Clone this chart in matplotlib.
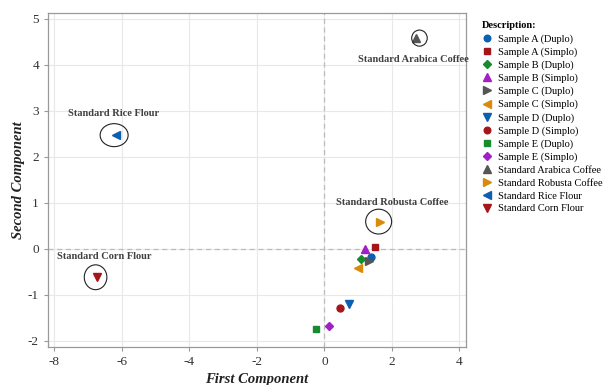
import matplotlib
matplotlib.use("Agg")
import matplotlib.pyplot as plt
from matplotlib.patches import Ellipse
from matplotlib.lines import Line2D

plt.rcParams['font.family'] = ['Liberation Serif', 'DejaVu Serif']
plt.rcParams['axes.unicode_minus'] = False

names = ["Sample A (Duplo)", "Sample A (Simplo)", "Sample B (Duplo)", "Sample B (Simplo)",
         "Sample C (Duplo)", "Sample C (Simplo)", "Sample D (Duplo)", "Sample D (Simplo)",
         "Sample E (Duplo)", "Sample E (Simplo)", "Standard Arabica Coffee",
         "Standard Robusta Coffee", "Standard Rice Flour", "Standard Corn Flour"]
pc1 = [1.39, 1.51, 1.08, 1.20, 1.33, 0.99, 0.72, 0.46, -0.25, 0.13, 2.73, 1.64, -6.18, -6.75]
pc2 = [-0.17, 0.04, -0.22, 0.0, -0.27, -0.41, -1.21, -1.28, -1.75, -1.69, 4.58, 0.59, 2.47, -0.62]
markers = ['o', 's', 'D', '^', '>', '<', 'v', 'o', 's', 'D', '^', '>', '<', 'v']
colors = ['#0D5FB0', '#A4161A', '#178C2E', '#A21FC8', '#555555', '#D98A0B', '#0D5FB0', '#A4161A',
          '#178C2E', '#A21FC8', '#555555', '#D98A0B', '#0D5FB0', '#A4161A']
msizes = [5.0, 4.6, 4.3, 5.6, 5.6, 5.6, 5.6, 5.0, 4.6, 4.3, 5.6, 5.6, 5.6, 5.6]

standards = ["Standard Arabica Coffee", "Standard Robusta Coffee", "Standard Rice Flour", "Standard Corn Flour"]
label_pos = [(2.64, 4.12), (2.02, 1.0), (-6.25, 2.93), (-6.52, -0.17)]
ell_off = [(0.09, 0.0), (-0.03, 0.0), (-0.05, 0.0), (-0.03, 0.0)]
ell_size = [(0.46, 0.35), (0.77, 0.54), (0.83, 0.50), (0.67, 0.54)]

fig = plt.figure(figsize=(6.03, 3.85), dpi=100)
ax = fig.add_axes([0.0796, 0.0995, 0.6927, 0.866])

ax.set_xlim(-8.19, 4.19)
ax.set_ylim(-2.13, 5.12)
ax.set_xticks([-8, -6, -4, -2, 0, 2, 4])
ax.set_yticks([-2, -1, 0, 1, 2, 3, 4, 5])
ax.grid(True, color='#e8e8e8', linewidth=0.8)
ax.set_axisbelow(True)
ax.axvline(0, color='#bbbbbb', linestyle=(0, (4, 3)), linewidth=0.9, zorder=1)
ax.axhline(0, color='#bbbbbb', linestyle=(0, (4, 3)), linewidth=0.9, zorder=1)

for s in ax.spines.values():
    s.set_color('#999999')
    s.set_linewidth(0.9)
ax.tick_params(axis='both', colors='#999999', labelcolor='#333333', labelsize=9.5, length=3, width=0.8)

handles = []
for n, x, y, m, c, ms in zip(names, pc1, pc2, markers, colors, msizes):
    ax.plot([x], [y], linestyle='none', marker=m, color=c, markersize=ms, zorder=3)
    handles.append(Line2D([], [], linestyle='none', marker=m, color=c, markersize=ms * 0.95, label=n))

for st, lp, eo, es in zip(standards, label_pos, ell_off, ell_size):
    i = names.index(st)
    ax.add_patch(Ellipse((pc1[i] + eo[0], pc2[i] + eo[1]), es[0], es[1], fill=False,
                         edgecolor='#222222', linewidth=0.8, zorder=4))
    ax.text(lp[0], lp[1], st, ha='center', va='center', fontsize=7.5, fontweight='bold',
            color='#404040', zorder=5)

ax.set_xlabel("First Component", fontsize=10.5, fontweight='bold', fontstyle='italic', color='#222222', labelpad=4)
ax.set_ylabel("Second Component", fontsize=10.5, fontweight='bold', fontstyle='italic', color='#222222', labelpad=2)

leg = fig.legend(handles=handles, loc='upper left', bbox_to_anchor=(0.793, 0.955), frameon=False,
                 title="Description:", fontsize=7.5, handlelength=0.9, handletextpad=0.6,
                 labelspacing=0.34, borderaxespad=0)
leg.get_title().set_fontweight('bold')
leg.get_title().set_fontsize(7.5)
leg._legend_box.align = "left"

fig.savefig("out.png", dpi=100)
